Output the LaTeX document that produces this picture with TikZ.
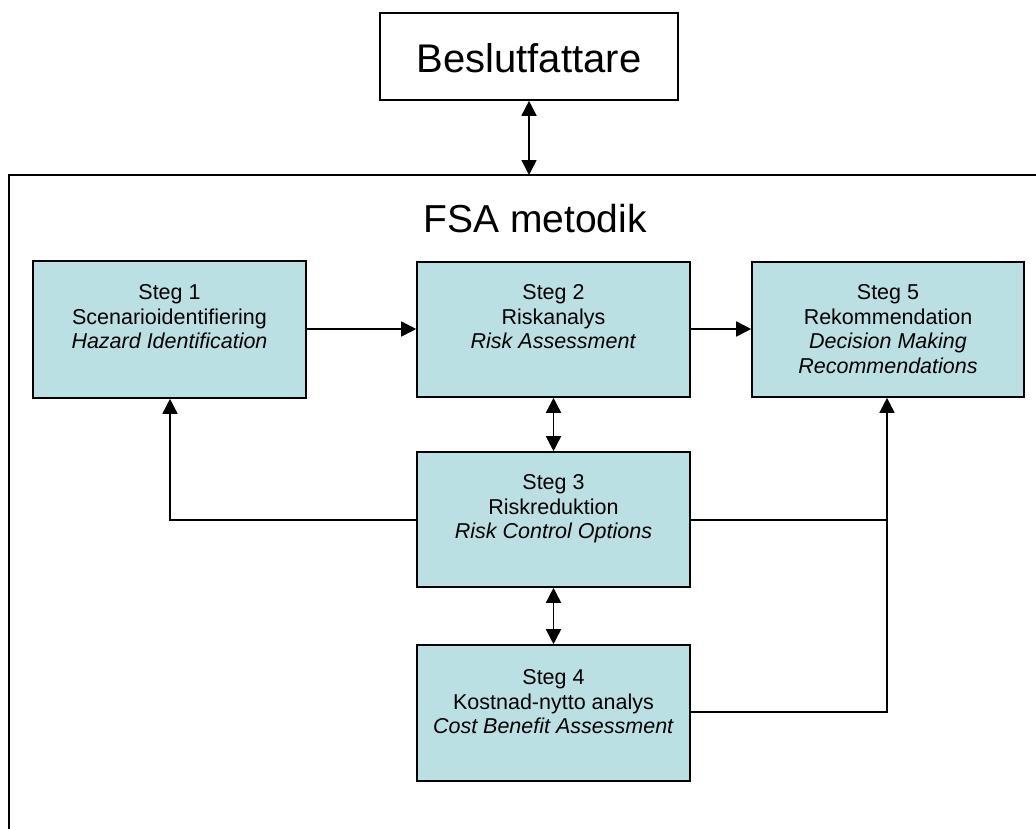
\documentclass[tikz,border=0pt]{standalone}
\usepackage{fontspec}
\setmainfont{Liberation Sans}
\usetikzlibrary{arrows.meta}
\definecolor{boxfill}{RGB}{187,224,227}
\tikzset{
  stepbox/.style={draw=black, line width=1.6pt, fill=boxfill, inner sep=0pt},
  steptext/.style={anchor=north, align=center, inner sep=0pt, font=\fontsize{21.5}{24.5}\selectfont},
  conn/.style={line width=1.6pt, draw=black},
  tip/.style={-{Triangle[length=15pt,width=15pt]}},
  bitip/.style={{Triangle[length=15pt,width=15pt]}-{Triangle[length=15pt,width=15pt]}}
}
\begin{document}
\begin{tikzpicture}[x=1pt,y=-1pt]
\useasboundingbox[fill=white] (0,0) rectangle (1036,828);
% decision maker
\node[draw=black, line width=1.6pt, fill=white, minimum width=298pt, minimum height=87pt, inner sep=0pt] (dm) at (529,56.5) {};
\node[anchor=base, inner sep=0pt, font=\fontsize{40}{46}\selectfont] (dmtext) at (529,72) {Beslutfattare};
% outer frame (open to the right and bottom)
\coordinate (fr) at (1040,175);
\coordinate (ftop) at (529,175);
\coordinate (fl) at (9,175);
\coordinate (fb) at (9,832);
\draw[line width=1.6pt] (fr) -- (fl) -- (fb);
\node[anchor=base, inner sep=0pt, font=\fontsize{39}{45}\selectfont] (fsa) at (535,232) {FSA metodik};
% step boxes
\node[stepbox, minimum width=273pt, minimum height=137pt] (s1) at (169.5,329.5) {};
\node[stepbox, minimum width=273pt, minimum height=135pt] (s2) at (553.5,329.5) {};
\node[stepbox, minimum width=272pt, minimum height=135pt] (s5) at (888,329.5) {};
\node[stepbox, minimum width=273pt, minimum height=135pt] (s3) at (553.5,519.5) {};
\node[stepbox, minimum width=273pt, minimum height=136pt] (s4) at (553.5,713) {};
% texts
\node[steptext] (t1) at (169.5,284.5) {Steg 1\\Scenarioidentifiering\\\textit{Hazard Identification}};
\node[steptext] (t2) at (553.5,284.5) {Steg 2\\Riskanalys\\\textit{Risk Assessment}};
\node[steptext] (t5) at (888,284.5) {Steg 5\\Rekommendation\\\textit{Decision Making}\\\textit{Recommendations}};
\node[steptext] (t3) at (553.5,474.5) {Steg 3\\Riskreduktion\\\textit{Risk Control Options}};
\node[steptext] (t4) at (553.5,669.5) {Steg 4\\Kostnad-nytto analys\\\textit{Cost Benefit Assessment}};
% connectors
\draw[conn, bitip] (dm.south) -- (ftop);
\draw[conn, tip] (s1.east |- 0,329) -- (s2.west |- 0,329);
\draw[conn, tip] (s2.east |- 0,329) -- (s5.west |- 0,329);
\draw[conn, bitip] (s2.south) -- (s3.north);
\draw[conn, bitip] (s3.south) -- (s4.north);
\coordinate (lc) at (170,520);
\coordinate (rc) at (887,520);
\coordinate (rb) at (887,712);
\draw[conn, tip] (s3.west |- lc) -- (lc) -- (lc |- s1.south);
\draw[conn, tip] (s3.east |- rc) -- (rc) -- (rc |- s5.south);
\draw[conn] (s4.east |- rb) -- (rb) -- (rc);
\end{tikzpicture}
\end{document}
